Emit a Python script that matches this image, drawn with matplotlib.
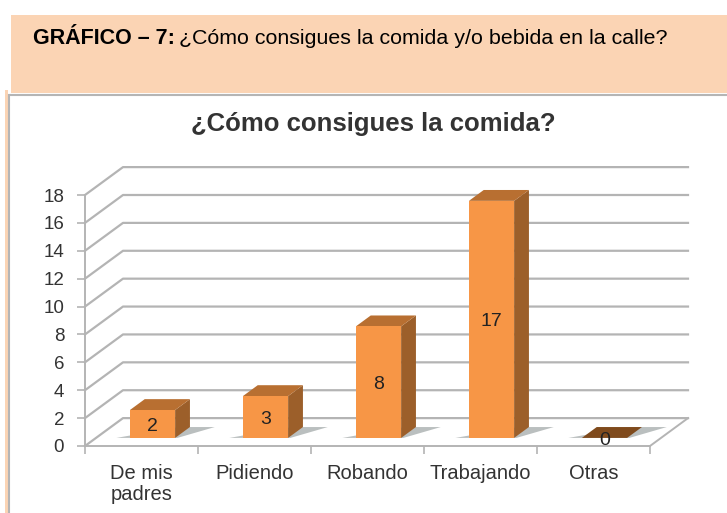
import matplotlib
matplotlib.use('Agg')
import matplotlib.pyplot as plt
from matplotlib.patches import Rectangle, Polygon

# Data
categories = ['De mis\npadres', 'Pidiendo', 'Robando', 'Trabajando', 'Otras']
values = [2, 3, 8, 17, 0]
y_ticks = [0, 2, 4, 6, 8, 10, 12, 14, 16, 18]

W, H = 727, 513

plt.rcParams['font.family'] = ['Liberation Sans', 'DejaVu Sans']

fig = plt.figure(figsize=(W / 100, H / 100), dpi=100, facecolor='white')

# Background: header band and chart frame, in pixels from the top left
bg = fig.add_axes([0, 0, 1, 1])
bg.set_xlim(0, W)
bg.set_ylim(H, 0)
bg.axis('off')
bg.add_patch(Rectangle((11, 15), W - 11, 78, fc='#fbd4b4', ec='none'))
bg.add_patch(Rectangle((5, 90), 3, H - 90, fc='#fbd4b4', ec='none'))
bg.plot([8.5, 8.5, W], [H, 94.5, 94.5], color='#b5b5b5', lw=1.5, solid_joinstyle='miter')
bg.text(33, 39, 'GRÁFICO – 7:', fontsize=15.5, fontweight='bold', va='center', color='black')
bg.text(179, 39, '¿Cómo consigues la comida y/o bebida en la calle?', fontsize=15.4, va='center', color='black')
bg.text(373, 124, '¿Cómo consigues la comida?', fontsize=18.5, fontweight='bold', ha='center', va='center', color='#333333')

# Chart axes, front plane of the floor goes from px 85 to 650
x0, x1 = 85, 650
y0, y1 = 446, 195
ax = fig.add_axes([x0 / W, 1 - y0 / H, (x1 - x0) / W, (y0 - y1) / H])
ax.patch.set_alpha(0)
ax.set_xlim(-0.5, 4.5)
ax.set_ylim(0, 18)

# Depth of the 3D look: the full floor depth in data units
depth_x = 38 / 113
depth_y = 2


def proj(x, y, d):
    return (x + d * depth_x, y + d * depth_y)


grid_col = '#b4b4b4'
for v in y_ticks:
    pts = [proj(-0.5, v, 0), proj(-0.5, v, 1), proj(4.5, v, 1)]
    ax.plot([p[0] for p in pts], [p[1] for p in pts], color=grid_col, lw=1.6, clip_on=False, zorder=1)
ax.plot(*zip(proj(4.5, 0, 0), proj(4.5, 0, 1)), color=grid_col, lw=1.4, clip_on=False, zorder=1)

# Bars
bar_w = 0.4
d_front = 0.29
d_back = 0.68
for i, v in enumerate(values):
    left = i - bar_w / 2
    right = i + bar_w / 2
    # shadow on the floor
    ax.add_patch(Polygon([proj(left - 0.12, 0, d_front), proj(right + 0.02, 0, d_front),
                          proj(right + 0.22, 0, d_back), proj(right - 0.1, 0, d_back)],
                         fc='#a9afaf', ec='none', alpha=0.8, clip_on=False, zorder=2))
    if v == 0:
        ax.add_patch(Polygon([proj(left, 0, d_front), proj(right, 0, d_front),
                              proj(right, 0, d_back), proj(left, 0, d_back)],
                             fc='#7f4a1c', ec='none', clip_on=False, zorder=3))
    else:
        # right side
        ax.add_patch(Polygon([proj(right, 0, d_front), proj(right, 0, d_back),
                              proj(right, v, d_back), proj(right, v, d_front)],
                             fc='#9c5f2a', ec='none', clip_on=False, zorder=3))
        # top
        ax.add_patch(Polygon([proj(left, v, d_front), proj(right, v, d_front),
                              proj(right, v, d_back), proj(left, v, d_back)],
                             fc='#b86f31', ec='none', clip_on=False, zorder=3))
        # front
        fx, fy = proj(left, 0, d_front)
        ax.add_patch(Rectangle((fx, fy), bar_w, v, fc='#f79646', ec='none', clip_on=False, zorder=4))
    cx, cy = proj(i, v / 2 - 0.15, d_front)
    ax.text(cx, cy, str(v), fontsize=14, ha='center', va='center', color='#222222', zorder=5)

# Axes
for s in ['top', 'right']:
    ax.spines[s].set_visible(False)
for s in ['left', 'bottom']:
    ax.spines[s].set_color(grid_col)
    ax.spines[s].set_linewidth(1.4)
ax.set_yticks(y_ticks)
ax.set_xticks(range(len(categories)))
ax.set_xticklabels(categories, linespacing=1.15)
ax.set_xticks([i - 0.5 for i in range(len(categories) + 1)], minor=True)
ax.tick_params(axis='x', which='major', length=0, pad=13, labelsize=14.5, labelcolor='#333333')
ax.tick_params(axis='x', which='minor', length=6, width=1.2, color=grid_col)
ax.tick_params(axis='y', length=6, width=1.2, color=grid_col, labelsize=13.5, labelcolor='#333333', pad=9)
for lab in ax.get_yticklabels():
    lab.set_va('center_baseline')

fig.savefig('out.png', dpi=100)
